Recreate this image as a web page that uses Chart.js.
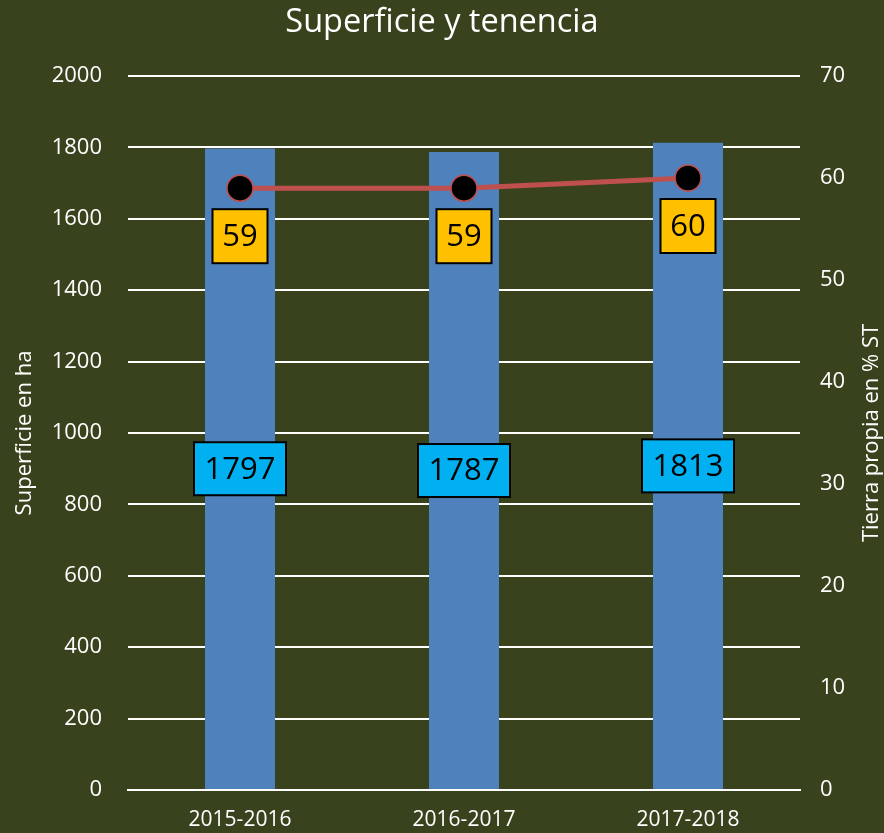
<!DOCTYPE html>
<html>
<head>
<meta charset="utf-8">
<script src="https://cdn.jsdelivr.net/npm/chart.js@4/dist/chart.umd.min.js"></script>
<style>
html,body{margin:0;padding:0;background:#38431d;}
#wrap{width:884px;height:833px;}
</style>
</head>
<body>
<div id="wrap"><canvas id="c" width="884" height="833"></canvas></div>
<script>
const categories = ['2015-2016', '2016-2017', '2017-2018'];
const superficie = [1797, 1787, 1813];
const tierraPropia = [59, 59, 60];
const leftTicks = [0, 200, 400, 600, 800, 1000, 1200, 1400, 1600, 1800, 2000];
const rightTicks = [0, 10, 20, 30, 40, 50, 60, 70];
const leftTitle = 'Superficie en ha';
const rightTitle = 'Tierra propia en % ST';

const FONT = "'Open Sans', 'Noto Sans', sans-serif";

const bgPlugin = {
  id: 'bg',
  beforeDraw(chart) {
    const ctx = chart.ctx;
    ctx.save();
    ctx.fillStyle = '#38431d';
    ctx.fillRect(0, 0, chart.width, chart.height);
    ctx.restore();
  }
};

function drawBox(ctx, cx, cy, w, h, fill, text) {
  ctx.save();
  ctx.fillStyle = fill;
  ctx.fillRect(cx - w / 2, cy - h / 2, w, h);
  ctx.lineWidth = 2;
  ctx.strokeStyle = '#000';
  ctx.strokeRect(cx - w / 2, cy - h / 2, w, h);
  ctx.fillStyle = '#000';
  ctx.font = "31px " + FONT;
  ctx.textAlign = 'center';
  ctx.textBaseline = 'middle';
  ctx.fillText(text, cx, cy + 1);
  ctx.restore();
}

const labelPlugin = {
  id: 'labels',
  afterDatasetsDraw(chart) {
    const ctx = chart.ctx;
    const barMeta = chart.getDatasetMeta(0);
    barMeta.data.forEach((el, i) => {
      drawBox(ctx, el.x, (el.y + el.base) / 2, 92, 53, '#00b0f0', String(superficie[i]));
    });
    const lineMeta = chart.getDatasetMeta(1);
    lineMeta.data.forEach((el, i) => {
      drawBox(ctx, el.x, el.y + 48, 55, 54, '#ffc000', String(tierraPropia[i]));
    });
  },
  afterDraw(chart) {
    const ctx = chart.ctx;
    const a = chart.chartArea;
    const cy = (a.top + a.bottom) / 2;
    ctx.save();
    ctx.fillStyle = '#ffffff';
    ctx.font = "22px " + FONT;
    ctx.textAlign = 'center';
    ctx.textBaseline = 'middle';
    ctx.translate(25, cy);
    ctx.rotate(-Math.PI / 2);
    ctx.fillText(leftTitle, 0, 0);
    ctx.restore();
    ctx.save();
    ctx.fillStyle = '#ffffff';
    ctx.font = "22px " + FONT;
    ctx.textAlign = 'center';
    ctx.textBaseline = 'middle';
    ctx.translate(872, cy);
    ctx.rotate(-Math.PI / 2);
    ctx.fillText(rightTitle, 0, 0);
    ctx.restore();
  }
};

new Chart(document.getElementById('c'), {
  type: 'bar',
  data: {
    labels: categories,
    datasets: [
      {
        type: 'bar',
        label: 'Superficie',
        data: superficie,
        backgroundColor: '#4f81bd',
        yAxisID: 'y',
        categoryPercentage: 1,
        barPercentage: 0.3125,
        order: 2
      },
      {
        type: 'line',
        label: 'Tierra propia',
        data: tierraPropia,
        borderColor: '#c0504d',
        borderWidth: 5,
        pointRadius: 13,
        pointBackgroundColor: '#000',
        pointBorderColor: '#c0504d',
        pointBorderWidth: 1.5,
        yAxisID: 'y1',
        order: 1
      }
    ]
  },
  options: {
    responsive: false,
    animation: false,
    layout: { padding: { top: 0, bottom: 0, left: 0, right: 0 } },
    plugins: {
      legend: { display: false },
      tooltip: { enabled: false },
      title: {
        display: true,
        text: 'Superficie y tenencia',
        color: '#ffffff',
        font: { family: FONT, size: 32.5, weight: 'normal' },
        padding: { top: 3, bottom: 34 }
      }
    },
    scales: {
      x: {
        grid: { display: false, drawTicks: false },
        border: { display: true, color: '#ffffff', width: 2 },
        ticks: { color: '#ffffff', font: { family: FONT, size: 21 }, padding: 17 },
        afterFit(s) { s.height = 43; }
      },
      y: {
        position: 'left',
        min: 0, max: 2000,
        afterBuildTicks(s) { s.ticks = leftTicks.map(v => ({ value: v })); },
        grid: { color: '#ffffff', lineWidth: 2, drawTicks: false },
        border: { display: false },
        ticks: { color: '#ffffff', font: { family: FONT, size: 22 }, padding: 26, callback: v => String(v) },
        afterFit(s) { s.width = 128; }
      },
      y1: {
        position: 'right',
        min: 0, max: 70,
        afterBuildTicks(s) { s.ticks = rightTicks.map(v => ({ value: v })); },
        grid: { display: false, drawTicks: false },
        border: { display: false },
        ticks: { color: '#ffffff', font: { family: FONT, size: 22 }, padding: 20, callback: v => String(v) },
        afterFit(s) { s.width = 84; }
      }
    }
  },
  plugins: [bgPlugin, labelPlugin]
});
</script>
</body>
</html>
